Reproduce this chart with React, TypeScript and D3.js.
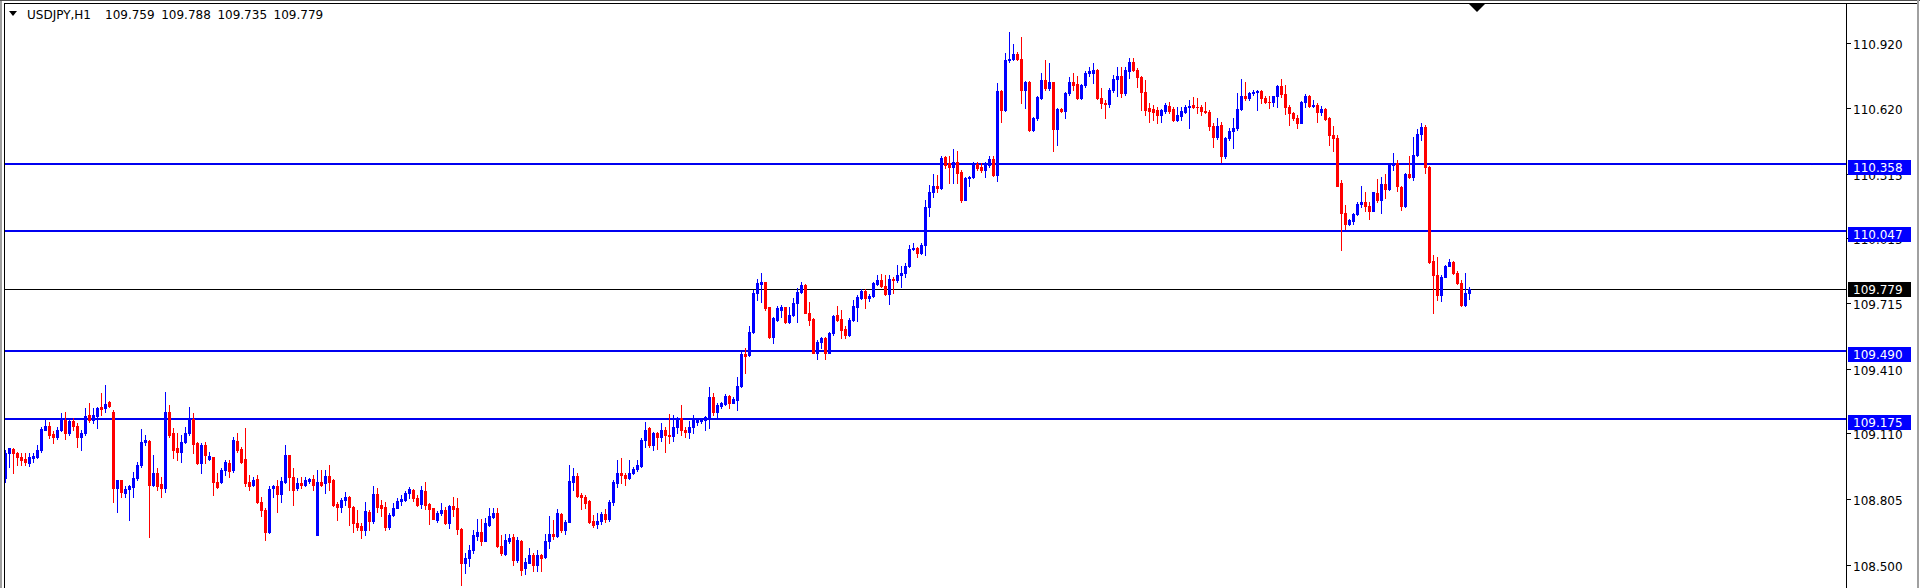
import * as d3 from 'd3';

const W = 1920;
const H = 588;

const symbol = 'USDJPY,H1';

// hourly bars, oldest first: [open, high, low, close]
const candles: [number, number, number, number][] = [
  [108.902, 109.034, 108.887, 109.018], [109.018, 109.041, 108.956, 109.041], [109.038, 109.041, 108.925, 109.018], [109.018, 109.026, 108.964, 108.999],
  [109.003, 109.018, 108.964, 108.987], [108.992, 109.018, 108.964, 108.979], [108.972, 109.018, 108.960, 108.999], [108.995, 109.018, 108.979, 109.006],
  [108.999, 109.057, 108.995, 109.034], [109.034, 109.142, 109.026, 109.129], [109.126, 109.173, 109.126, 109.145], [109.145, 109.165, 109.088, 109.103],
  [109.106, 109.119, 109.064, 109.095], [109.095, 109.142, 109.083, 109.126], [109.126, 109.204, 109.119, 109.180], [109.173, 109.211, 109.083, 109.114],
  [109.111, 109.180, 109.103, 109.168], [109.168, 109.180, 109.126, 109.145], [109.145, 109.157, 109.049, 109.095], [109.095, 109.126, 109.034, 109.114],
  [109.111, 109.227, 109.103, 109.191], [109.196, 109.253, 109.165, 109.173], [109.173, 109.227, 109.157, 109.196], [109.191, 109.234, 109.134, 109.228],
  [109.231, 109.296, 109.196, 109.222], [109.227, 109.335, 109.211, 109.247], [109.254, 109.262, 109.234, 109.239], [109.211, 109.219, 108.794, 108.856],
  [108.856, 108.895, 108.748, 108.895], [108.895, 108.895, 108.817, 108.840], [108.833, 108.864, 108.817, 108.851], [108.851, 108.871, 108.709, 108.864],
  [108.861, 108.933, 108.817, 108.902], [108.902, 108.979, 108.895, 108.964], [108.964, 109.129, 108.956, 109.072], [109.068, 109.103, 109.057, 109.080],
  [109.077, 109.080, 108.632, 108.871], [108.871, 109.010, 108.864, 108.925], [108.925, 108.949, 108.848, 108.867], [108.874, 108.910, 108.814, 108.859],
  [108.859, 109.304, 108.840, 109.211], [109.211, 109.242, 109.095, 109.103], [109.111, 109.134, 108.995, 109.034], [109.041, 109.111, 108.987, 109.026],
  [109.026, 109.103, 108.979, 109.072], [109.072, 109.142, 109.064, 109.114], [109.111, 109.231, 109.103, 109.176], [109.176, 109.204, 109.018, 109.061],
  [109.064, 109.072, 108.969, 108.975], [108.975, 109.064, 108.925, 109.057], [109.057, 109.072, 108.972, 109.010], [108.992, 109.026, 108.987, 109.006],
  [108.999, 109.003, 108.825, 108.884], [108.887, 108.925, 108.856, 108.861], [108.884, 108.949, 108.879, 108.941], [108.941, 108.987, 108.918, 108.979],
  [108.972, 108.987, 108.910, 108.938], [108.941, 109.095, 108.933, 109.080], [109.075, 109.111, 109.026, 109.034], [109.038, 109.049, 108.972, 108.979],
  [108.992, 109.134, 108.867, 108.879], [108.884, 108.918, 108.848, 108.867], [108.871, 108.910, 108.864, 108.895], [108.898, 108.918, 108.786, 108.794],
  [108.794, 108.817, 108.725, 108.755], [108.755, 108.763, 108.616, 108.655], [108.655, 108.864, 108.647, 108.851], [108.856, 108.871, 108.817, 108.867],
  [108.867, 108.895, 108.748, 108.828], [108.828, 108.910, 108.794, 108.890], [108.887, 109.057, 108.879, 109.010], [109.010, 109.010, 108.848, 108.910],
  [108.910, 108.949, 108.779, 108.848], [108.856, 108.902, 108.848, 108.879], [108.879, 108.910, 108.856, 108.871], [108.871, 108.910, 108.864, 108.895],
  [108.890, 108.905, 108.879, 108.900], [108.900, 108.918, 108.848, 108.871], [108.640, 108.941, 108.640, 108.887], [108.887, 108.941, 108.867, 108.871],
  [108.879, 108.941, 108.833, 108.913], [108.913, 108.964, 108.848, 108.887], [108.895, 108.898, 108.774, 108.779], [108.783, 108.794, 108.709, 108.768],
  [108.768, 108.809, 108.748, 108.802], [108.802, 108.837, 108.779, 108.817], [108.817, 108.820, 108.686, 108.768], [108.771, 108.774, 108.655, 108.694],
  [108.697, 108.755, 108.663, 108.678], [108.683, 108.694, 108.624, 108.660], [108.660, 108.794, 108.640, 108.751], [108.748, 108.755, 108.663, 108.706],
  [108.706, 108.867, 108.694, 108.828], [108.828, 108.856, 108.748, 108.771], [108.776, 108.802, 108.728, 108.766], [108.768, 108.790, 108.663, 108.674],
  [108.674, 108.743, 108.667, 108.732], [108.732, 108.786, 108.725, 108.766], [108.763, 108.809, 108.763, 108.797], [108.799, 108.825, 108.779, 108.805],
  [108.802, 108.843, 108.799, 108.836], [108.833, 108.861, 108.809, 108.853], [108.848, 108.851, 108.799, 108.809], [108.812, 108.825, 108.774, 108.779],
  [108.783, 108.864, 108.763, 108.848], [108.843, 108.884, 108.758, 108.779], [108.783, 108.789, 108.690, 108.758], [108.763, 108.766, 108.712, 108.712],
  [108.709, 108.752, 108.701, 108.743], [108.740, 108.786, 108.732, 108.755], [108.755, 108.771, 108.690, 108.697], [108.697, 108.779, 108.670, 108.774],
  [108.774, 108.814, 108.725, 108.758], [108.763, 108.809, 108.644, 108.666], [108.667, 108.670, 108.408, 108.508], [108.508, 108.555, 108.465, 108.531],
  [108.531, 108.593, 108.496, 108.570], [108.570, 108.663, 108.555, 108.640], [108.635, 108.712, 108.616, 108.655], [108.655, 108.712, 108.593, 108.609],
  [108.613, 108.717, 108.609, 108.697], [108.686, 108.766, 108.681, 108.725], [108.721, 108.763, 108.717, 108.743], [108.743, 108.763, 108.585, 108.589],
  [108.590, 108.640, 108.547, 108.555], [108.550, 108.643, 108.547, 108.616], [108.612, 108.643, 108.601, 108.627], [108.632, 108.644, 108.500, 108.524],
  [108.524, 108.632, 108.516, 108.616], [108.613, 108.616, 108.454, 108.477], [108.485, 108.531, 108.457, 108.516], [108.511, 108.581, 108.508, 108.547],
  [108.547, 108.555, 108.470, 108.500], [108.500, 108.570, 108.474, 108.547], [108.547, 108.551, 108.470, 108.531], [108.539, 108.643, 108.531, 108.612],
  [108.609, 108.725, 108.578, 108.644], [108.644, 108.709, 108.620, 108.635], [108.635, 108.758, 108.632, 108.740], [108.735, 108.740, 108.655, 108.660],
  [108.660, 108.709, 108.644, 108.698], [108.701, 108.964, 108.698, 108.890], [108.887, 108.949, 108.848, 108.913], [108.913, 108.925, 108.817, 108.820],
  [108.825, 108.833, 108.758, 108.817], [108.817, 108.825, 108.766, 108.789], [108.797, 108.802, 108.694, 108.701], [108.706, 108.732, 108.678, 108.686],
  [108.689, 108.740, 108.670, 108.704], [108.704, 108.745, 108.690, 108.735], [108.735, 108.760, 108.700, 108.715], [108.715, 108.800, 108.705, 108.790],
  [108.790, 108.894, 108.780, 108.886], [108.882, 108.987, 108.863, 108.925], [108.925, 108.994, 108.879, 108.917], [108.917, 108.925, 108.871, 108.902],
  [108.902, 108.987, 108.897, 108.925], [108.925, 108.956, 108.922, 108.943], [108.943, 108.987, 108.937, 108.963], [108.959, 109.087, 108.956, 109.079],
  [109.079, 109.164, 109.048, 109.126], [109.133, 109.141, 109.048, 109.056], [109.056, 109.118, 109.033, 109.110], [109.110, 109.118, 109.036, 109.095],
  [109.095, 109.157, 109.076, 109.126], [109.126, 109.141, 109.025, 109.103], [109.103, 109.200, 109.064, 109.099], [109.099, 109.195, 109.076, 109.141],
  [109.141, 109.188, 109.113, 109.180], [109.180, 109.242, 109.103, 109.126], [109.126, 109.141, 109.092, 109.118], [109.118, 109.169, 109.087, 109.141],
  [109.141, 109.195, 109.113, 109.170], [109.162, 109.175, 109.149, 109.170], [109.167, 109.180, 109.157, 109.172], [109.172, 109.191, 109.126, 109.188],
  [109.180, 109.327, 109.133, 109.280], [109.280, 109.296, 109.195, 109.211], [109.211, 109.249, 109.188, 109.242], [109.236, 109.257, 109.226, 109.249],
  [109.246, 109.293, 109.242, 109.283], [109.283, 109.288, 109.226, 109.252], [109.252, 109.280, 109.249, 109.269], [109.265, 109.373, 109.218, 109.330],
  [109.330, 109.489, 109.327, 109.478], [109.478, 109.504, 109.388, 109.469], [109.473, 109.608, 109.469, 109.581], [109.581, 109.775, 109.574, 109.762],
  [109.759, 109.824, 109.728, 109.806], [109.803, 109.852, 109.721, 109.813], [109.813, 109.813, 109.682, 109.690], [109.697, 109.697, 109.551, 109.555],
  [109.555, 109.651, 109.530, 109.643], [109.636, 109.700, 109.632, 109.690], [109.682, 109.705, 109.651, 109.694], [109.694, 109.697, 109.623, 109.628],
  [109.628, 109.697, 109.623, 109.659], [109.659, 109.736, 109.654, 109.716], [109.716, 109.782, 109.628, 109.767], [109.767, 109.810, 109.760, 109.799],
  [109.799, 109.803, 109.667, 109.670], [109.670, 109.721, 109.613, 109.637], [109.640, 109.644, 109.482, 109.485], [109.485, 109.544, 109.454, 109.536],
  [109.536, 109.556, 109.505, 109.552], [109.552, 109.556, 109.454, 109.485], [109.485, 109.582, 109.482, 109.575], [109.575, 109.660, 109.567, 109.655],
  [109.660, 109.701, 109.629, 109.637], [109.640, 109.683, 109.552, 109.590], [109.593, 109.606, 109.552, 109.567], [109.567, 109.644, 109.562, 109.637],
  [109.637, 109.729, 109.629, 109.701], [109.698, 109.752, 109.629, 109.742], [109.738, 109.779, 109.732, 109.772], [109.772, 109.779, 109.691, 109.737],
  [109.737, 109.757, 109.726, 109.748], [109.745, 109.814, 109.742, 109.806], [109.803, 109.845, 109.799, 109.822], [109.822, 109.850, 109.791, 109.794],
  [109.794, 109.845, 109.752, 109.757], [109.757, 109.845, 109.711, 109.825], [109.825, 109.834, 109.763, 109.819], [109.819, 109.891, 109.810, 109.845],
  [109.845, 109.884, 109.791, 109.853], [109.853, 109.899, 109.837, 109.884], [109.884, 109.984, 109.880, 109.964], [109.964, 109.992, 109.960, 109.969],
  [109.969, 109.973, 109.927, 109.946], [109.946, 109.992, 109.943, 109.984], [109.984, 110.193, 109.938, 110.159], [110.159, 110.262, 110.119, 110.227],
  [110.227, 110.313, 110.205, 110.255], [110.255, 110.309, 110.227, 110.247], [110.247, 110.397, 110.242, 110.386], [110.390, 110.397, 110.339, 110.355],
  [110.363, 110.394, 110.270, 110.347], [110.347, 110.428, 110.270, 110.370], [110.370, 110.421, 110.270, 110.319], [110.324, 110.329, 110.185, 110.193],
  [110.193, 110.301, 110.190, 110.293], [110.293, 110.304, 110.255, 110.301], [110.298, 110.366, 110.293, 110.360], [110.360, 110.366, 110.332, 110.339],
  [110.347, 110.363, 110.324, 110.329], [110.329, 110.370, 110.301, 110.360], [110.355, 110.394, 110.347, 110.381], [110.381, 110.394, 110.304, 110.309],
  [110.309, 110.733, 110.278, 110.699], [110.699, 110.703, 110.556, 110.610], [110.610, 110.873, 110.607, 110.842], [110.842, 110.973, 110.834, 110.845],
  [110.845, 110.916, 110.842, 110.869], [110.869, 110.880, 110.842, 110.845], [110.845, 110.950, 110.641, 110.703], [110.703, 110.746, 110.618, 110.741],
  [110.741, 110.744, 110.514, 110.517], [110.517, 110.579, 110.514, 110.571], [110.571, 110.675, 110.564, 110.669], [110.664, 110.780, 110.659, 110.749],
  [110.749, 110.842, 110.703, 110.710], [110.710, 110.826, 110.703, 110.737], [110.737, 110.741, 110.417, 110.520], [110.520, 110.618, 110.448, 110.613],
  [110.613, 110.618, 110.602, 110.607], [110.607, 110.695, 110.571, 110.687], [110.687, 110.761, 110.679, 110.741], [110.741, 110.783, 110.703, 110.726],
  [110.730, 110.767, 110.659, 110.664], [110.664, 110.730, 110.659, 110.726], [110.726, 110.788, 110.718, 110.780], [110.780, 110.811, 110.767, 110.788],
  [110.783, 110.826, 110.733, 110.795], [110.795, 110.798, 110.659, 110.664], [110.664, 110.710, 110.618, 110.641], [110.644, 110.656, 110.571, 110.638],
  [110.638, 110.710, 110.622, 110.703], [110.703, 110.772, 110.695, 110.752], [110.752, 110.811, 110.675, 110.767], [110.767, 110.811, 110.669, 110.687],
  [110.687, 110.811, 110.679, 110.795], [110.792, 110.849, 110.757, 110.834], [110.834, 110.849, 110.788, 110.795], [110.795, 110.803, 110.718, 110.761],
  [110.761, 110.767, 110.610, 110.695], [110.695, 110.749, 110.587, 110.610], [110.618, 110.641, 110.556, 110.607], [110.613, 110.633, 110.564, 110.602],
  [110.610, 110.622, 110.548, 110.587], [110.587, 110.613, 110.556, 110.610], [110.607, 110.641, 110.597, 110.633], [110.628, 110.648, 110.594, 110.607],
  [110.613, 110.622, 110.560, 110.564], [110.564, 110.622, 110.560, 110.587], [110.582, 110.622, 110.564, 110.607], [110.602, 110.633, 110.594, 110.622],
  [110.622, 110.656, 110.525, 110.628], [110.633, 110.669, 110.618, 110.625], [110.625, 110.664, 110.594, 110.622], [110.622, 110.633, 110.587, 110.607],
  [110.607, 110.648, 110.597, 110.602], [110.602, 110.610, 110.517, 110.533], [110.533, 110.548, 110.437, 110.483], [110.483, 110.571, 110.474, 110.536],
  [110.540, 110.556, 110.370, 110.394], [110.394, 110.486, 110.386, 110.479], [110.479, 110.525, 110.471, 110.514], [110.514, 110.571, 110.432, 110.525],
  [110.525, 110.687, 110.517, 110.613], [110.613, 110.752, 110.610, 110.675], [110.675, 110.741, 110.656, 110.664], [110.664, 110.695, 110.656, 110.687],
  [110.687, 110.703, 110.679, 110.695], [110.692, 110.703, 110.610, 110.699], [110.699, 110.703, 110.641, 110.664], [110.664, 110.672, 110.641, 110.648],
  [110.648, 110.675, 110.618, 110.645], [110.645, 110.675, 110.628, 110.672], [110.672, 110.726, 110.622, 110.721], [110.721, 110.752, 110.669, 110.684],
  [110.684, 110.726, 110.591, 110.622], [110.622, 110.633, 110.540, 110.594], [110.594, 110.602, 110.564, 110.571], [110.571, 110.587, 110.525, 110.551],
  [110.551, 110.653, 110.548, 110.648], [110.648, 110.684, 110.622, 110.672], [110.672, 110.679, 110.622, 110.628], [110.628, 110.656, 110.622, 110.631],
  [110.631, 110.641, 110.556, 110.602], [110.602, 110.628, 110.587, 110.613], [110.613, 110.618, 110.564, 110.567], [110.571, 110.579, 110.448, 110.494],
  [110.494, 110.533, 110.417, 110.479], [110.479, 110.494, 110.255, 110.258], [110.270, 110.285, 109.961, 110.131], [110.131, 110.170, 110.057, 110.081],
  [110.081, 110.103, 110.077, 110.100], [110.097, 110.134, 110.081, 110.128], [110.128, 110.185, 110.123, 110.174], [110.174, 110.255, 110.162, 110.185],
  [110.185, 110.231, 110.139, 110.165], [110.165, 110.185, 110.103, 110.143], [110.143, 110.231, 110.139, 110.227], [110.224, 110.288, 110.185, 110.193],
  [110.193, 110.298, 110.131, 110.267], [110.267, 110.313, 110.200, 110.242], [110.242, 110.360, 110.239, 110.355], [110.355, 110.409, 110.332, 110.363],
  [110.363, 110.378, 110.236, 110.255], [110.251, 110.257, 110.146, 110.165], [110.165, 110.319, 110.162, 110.313], [110.313, 110.396, 110.293, 110.298],
  [110.298, 110.483, 110.285, 110.401], [110.401, 110.520, 110.396, 110.498], [110.498, 110.551, 110.471, 110.532], [110.532, 110.540, 110.319, 110.347],
  [110.347, 110.350, 109.899, 109.907], [109.910, 109.938, 109.667, 109.845], [109.845, 109.930, 109.729, 109.752], [109.752, 109.845, 109.726, 109.837],
  [109.837, 109.891, 109.834, 109.887], [109.887, 109.917, 109.884, 109.907], [109.907, 109.911, 109.849, 109.853], [109.853, 109.865, 109.803, 109.806],
  [109.806, 109.822, 109.701, 109.706], [109.706, 109.853, 109.701, 109.763], [109.759, 109.788, 109.735, 109.779],
];

// horizontal support / resistance lines
const levels = [110.358, 110.047, 109.49, 109.175];
const bidPrice = 109.779;
const priceTicks = [110.92, 110.62, 110.315, 110.015, 109.715, 109.41, 109.11, 108.805, 108.5];

const UP = '#0000ff';
const DOWN = '#ff0000';
const LEVEL = '#0000f0';
const FONT = "'DejaVu Sans', Verdana, sans-serif";

const AXIS_X = 1846;

export default function App() {
  const y = d3.scaleLinear().domain([108.5, 110.92]).range([565, 43]);
  const x = d3.scaleLinear().domain([0, candles.length - 1]).range([5, 1469]);
  const last = candles[candles.length - 1];
  const fmt = d3.format('.3f');

  return (
    <svg
      width={W}
      height={H}
      style={{ position: 'absolute', left: 0, top: 0, background: '#fff' }}
      fontFamily={FONT}
      fontSize={12}
    >
      <rect x={0} y={0} width={W} height={H} fill="#fff" />

      {/* level lines */}
      <g shapeRendering="crispEdges">
        {levels.map((l) => (
          <rect key={l} x={4} y={Math.round(y(l)) - 1} width={AXIS_X - 4} height={2} fill={LEVEL} />
        ))}
        <rect x={4} y={Math.round(y(bidPrice))} width={AXIS_X - 4} height={1} fill="#000" />
      </g>

      {/* candles */}
      <g shapeRendering="crispEdges">
        {candles.map(([o, h, l, c], i) => {
          const cx = Math.round(x(i));
          const col = c >= o ? UP : DOWN;
          const yh = Math.round(y(h));
          const yl = Math.round(y(l));
          const yt = Math.round(y(Math.max(o, c)));
          const yb = Math.round(y(Math.min(o, c)));
          return (
            <g key={i}>
              <rect x={cx} y={yh} width={1} height={Math.max(1, yl - yh + 1)} fill={col} />
              <rect x={cx - 1} y={yt} width={3} height={Math.max(1, yb - yt + 1)} fill={col} />
            </g>
          );
        })}
      </g>

      {/* frame */}
      <g shapeRendering="crispEdges">
        <rect x={0} y={0} width={2} height={H} fill="#a0a0a0" />
        <rect x={0} y={0} width={W} height={1} fill="#505050" />
        <rect x={W - 3} y={0} width={2} height={H} fill="#a0a0a0" />
        <rect x={4} y={3} width={W - 7} height={1} fill="#000" />
        <rect x={4} y={3} width={1} height={H} fill="#000" />
        <rect x={AXIS_X} y={3} width={1} height={H} fill="#000" />
      </g>

      {/* shift marker */}
      <polygon points="1469,4 1485,4 1477,12" fill="#000" />

      {/* title */}
      <polygon points="9,11 17,11 13,16" fill="#000" />
      <text x={27} y={19} fill="#000">{symbol}</text>
      {last.map((v, i) => (
        <text key={i} x={105 + i * 56.2} y={19} fill="#000">{fmt(v)}</text>
      ))}

      {/* price axis */}
      <g>
        {priceTicks.map((t) => {
          const ty = Math.round(y(t));
          return (
            <g key={t}>
              <rect x={AXIS_X + 1} y={ty} width={4} height={1} fill="#000" shapeRendering="crispEdges" />
              <text x={1853} y={ty + 5.5} fill="#000">{fmt(t)}</text>
            </g>
          );
        })}
        {levels.map((l) => {
          const cy = y(l) + 3;
          return (
            <g key={l}>
              <rect x={1848} y={Math.round(cy - 7.5)} width={63} height={15} fill="#0000ff" shapeRendering="crispEdges" />
              <text x={1853} y={cy + 4.5} fill="#fff">{fmt(l)}</text>
            </g>
          );
        })}
        <rect x={1848} y={Math.round(y(bidPrice) - 7.5)} width={63} height={15} fill="#000" shapeRendering="crispEdges" />
        <text x={1853} y={y(bidPrice) + 4.5} fill="#fff">{fmt(bidPrice)}</text>
      </g>
    </svg>
  );
}
